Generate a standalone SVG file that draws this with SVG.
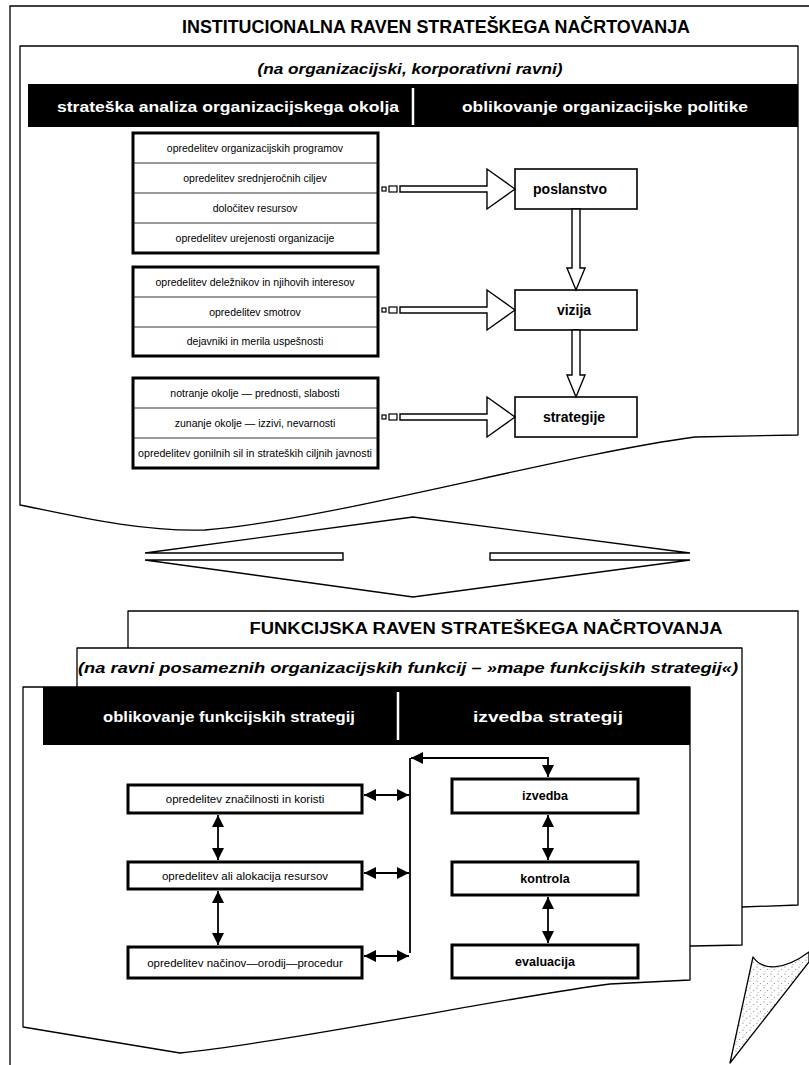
<svg xmlns="http://www.w3.org/2000/svg" width="809" height="1065" viewBox="0 0 809 1065">
<style>
.ln{fill:none;stroke:#000;stroke-width:1.3}
.pnl{fill:#fff;stroke:#000;stroke-width:1.3;stroke-linejoin:round}
.bar{fill:#000}
.dv{stroke:#fff;stroke-width:2.5}
.bx{fill:#fff;stroke:#000;stroke-width:3}
.row{stroke:#000;stroke-width:0.8}
.nb{fill:#fff;stroke:#000;stroke-width:1.6}
.blk{fill:#fff;stroke:#000;stroke-width:1.4}
.sq{fill:#fff;stroke:#000;stroke-width:1.2}
.t{font-family:"Liberation Sans",Arial,sans-serif;fill:#000;text-anchor:middle;dominant-baseline:central}
.h{font-weight:bold}
.w{fill:#fff}
.i{font-style:italic}
.s{font-size:10.5px}
.f{font-size:11.5px}
.con{fill:none;stroke:#000;stroke-width:1.8}
</style>
<defs>
<marker id="ah" viewBox="0 0 10 10" refX="10" refY="5" markerWidth="13" markerHeight="12" markerUnits="userSpaceOnUse" orient="auto-start-reverse">
<path d="M0,0 L10,5 L0,10 Z" fill="#000"/>
</marker>
<pattern id="stip" width="7" height="7" patternUnits="userSpaceOnUse">
<rect width="7" height="7" fill="#fff"/>
<circle cx="1" cy="1" r="0.6" fill="#666"/>
<circle cx="4.5" cy="3.5" r="0.6" fill="#888"/>
<circle cx="2" cy="5.5" r="0.5" fill="#999"/>
</pattern>
</defs>

<g id="frame">
<path class="ln" d="M10,1065 V6 H809"/>
<text class="t h" x="436" y="27" font-size="17.5" textLength="508" lengthAdjust="spacingAndGlyphs">INSTITUCIONALNA RAVEN STRATEŠKEGA NAČRTOVANJA</text>
</g>

<g id="institutional-panel">
<path class="pnl" d="M20,46 H798 V435 L695,437 C560,455 330,520 205,530 C140,532 70,515 20,505 Z"/>
<text class="t h i" x="410" y="68" font-size="15" textLength="305" lengthAdjust="spacingAndGlyphs">(na organizacijski, korporativni ravni)</text>
<rect class="bar" x="28" y="84" width="770" height="43"/>
<line class="dv" x1="413" y1="88" x2="413" y2="125"/>
<text class="t h w" x="228" y="106" font-size="15" textLength="342" lengthAdjust="spacingAndGlyphs">strateška analiza organizacijskega okolja</text>
<text class="t h w" x="605" y="106" font-size="15" textLength="286" lengthAdjust="spacingAndGlyphs">oblikovanje organizacijske politike</text>
</g>

<g id="group1">
<rect class="bx" x="133" y="133" width="245" height="120"/>
<line class="row" x1="133" y1="163" x2="378" y2="163"/>
<line class="row" x1="133" y1="193" x2="378" y2="193"/>
<line class="row" x1="133" y1="223" x2="378" y2="223"/>
<text class="t s" x="255" y="148">opredelitev organizacijskih programov</text>
<text class="t s" x="255" y="178">opredelitev srednjeročnih ciljev</text>
<text class="t s" x="255" y="208">določitev resursov</text>
<text class="t s" x="255" y="238">opredelitev urejenosti organizacije</text>
</g>

<g id="group2">
<rect class="bx" x="133" y="267" width="245" height="89"/>
<line class="row" x1="133" y1="297" x2="378" y2="297"/>
<line class="row" x1="133" y1="327" x2="378" y2="327"/>
<text class="t s" x="255" y="282">opredelitev deležnikov in njihovih interesov</text>
<text class="t s" x="255" y="312">opredelitev smotrov</text>
<text class="t s" x="255" y="341">dejavniki in merila uspešnosti</text>
</g>

<g id="group3">
<rect class="bx" x="133" y="378" width="245" height="90"/>
<line class="row" x1="133" y1="408" x2="378" y2="408"/>
<line class="row" x1="133" y1="438" x2="378" y2="438"/>
<text class="t s" x="255" y="393">notranje okolje — prednosti, slabosti</text>
<text class="t s" x="255" y="423">zunanje okolje — izzivi, nevarnosti</text>
<text class="t s" x="255" y="453" textLength="234" lengthAdjust="spacingAndGlyphs">opredelitev gonilnih sil in strateških ciljnih javnosti</text>
</g>

<g id="poslanstvo">
<rect class="nb" x="515" y="169" width="122" height="40"/>
<text class="t h" x="570" y="189" font-size="14">poslanstvo</text>
</g>
<g id="vizija">
<rect class="nb" x="515" y="290" width="122" height="40"/>
<text class="t h" x="574" y="310" font-size="14">vizija</text>
</g>
<g id="strategije">
<rect class="nb" x="515" y="397" width="122" height="40"/>
<text class="t h" x="574" y="417" font-size="14">strategije</text>
</g>

<g id="connectors-top">
<rect class="sq" x="382" y="187" width="4" height="4"/>
<rect class="sq" x="389" y="186" width="8" height="6"/>
<polygon class="blk" points="400,186 487,186 487,169 515,189 487,209 487,192 400,192"/>
<rect class="sq" x="382" y="308" width="4" height="4"/>
<rect class="sq" x="389" y="307" width="8" height="6"/>
<polygon class="blk" points="400,307 487,307 487,290 515,310 487,330 487,313 400,313"/>
<rect class="sq" x="382" y="415" width="4" height="4"/>
<rect class="sq" x="389" y="414" width="8" height="6"/>
<polygon class="blk" points="400,414 487,414 487,397 515,417 487,437 487,420 400,420"/>
<polygon class="blk" points="572,209 580,209 580,268 585,268 576,290 567,268 572,268"/>
<polygon class="blk" points="572,330 580,330 580,375 585,375 576,397 567,375 572,375"/>
</g>

<g id="double-arrow">
<path class="blk" d="M145,553 L413,517 L690,553 L490,553 L490,560 L690,560 L413,597 L145,560 L343,560 L343,553 Z"/>
</g>

<g id="functional-layer1">
<path class="pnl" d="M128,910 V611 H798 V905 L742,907 L128,910 Z"/>
<text class="t h" x="486" y="628" font-size="16" textLength="473" lengthAdjust="spacingAndGlyphs">FUNKCIJSKA RAVEN STRATEŠKEGA NAČRTOVANJA</text>
</g>
<g id="functional-layer2">
<path class="pnl" d="M77,946 V648 H742 V945 L692,946 Z"/>
<text class="t h i" x="408" y="667" font-size="15" textLength="660" lengthAdjust="spacingAndGlyphs">(na ravni posameznih organizacijskih funkcij – »mape funkcijskih strategij«)</text>
</g>
<g id="functional-layer3">
<path class="pnl" d="M23,687 H690 V980 L610,984 C520,995 300,1040 180,1053 L23,1027 Z"/>
<rect class="bar" x="43" y="687" width="647" height="58"/>
<line class="dv" x1="398" y1="692" x2="398" y2="740"/>
<text class="t h w" x="229" y="716" font-size="15" textLength="252" lengthAdjust="spacingAndGlyphs">oblikovanje funkcijskih strategij</text>
<text class="t h w" x="548" y="716" font-size="15" textLength="150" lengthAdjust="spacingAndGlyphs">izvedba strategij</text>
</g>

<g id="znacilnosti">
<rect class="bx" x="128" y="785" width="234" height="28"/>
<text class="t f" x="245" y="799">opredelitev značilnosti in koristi</text>
</g>
<g id="alokacija">
<rect class="bx" x="128" y="862" width="234" height="27"/>
<text class="t f" x="245" y="875.5">opredelitev ali alokacija resursov</text>
</g>
<g id="nacini">
<rect class="bx" x="128" y="947" width="234" height="31"/>
<text class="t f" x="245" y="962.5">opredelitev načinov—orodij—procedur</text>
</g>
<g id="izvedba">
<rect class="bx" x="452" y="779" width="186" height="34"/>
<text class="t h" x="545" y="796" font-size="12.5">izvedba</text>
</g>
<g id="kontrola">
<rect class="bx" x="452" y="862" width="186" height="33"/>
<text class="t h" x="545" y="878.5" font-size="12.5">kontrola</text>
</g>
<g id="evaluacija">
<rect class="bx" x="452" y="945" width="186" height="33"/>
<text class="t h" x="545" y="961.5" font-size="12.5">evaluacija</text>
</g>

<g id="connectors-bottom">
<line class="con" x1="410" y1="758" x2="410" y2="953"/>
<path class="con" d="M411,758 H548 V777" marker-start="url(#ah)" marker-end="url(#ah)"/>
<line class="con" x1="364" y1="795" x2="409" y2="795" marker-start="url(#ah)" marker-end="url(#ah)"/>
<line class="con" x1="364" y1="873" x2="409" y2="873" marker-start="url(#ah)" marker-end="url(#ah)"/>
<line class="con" x1="364" y1="956" x2="409" y2="956" marker-start="url(#ah)" marker-end="url(#ah)"/>
<line class="con" x1="218" y1="815" x2="218" y2="860" marker-start="url(#ah)" marker-end="url(#ah)"/>
<line class="con" x1="218" y1="891" x2="218" y2="945" marker-start="url(#ah)" marker-end="url(#ah)"/>
<line class="con" x1="548" y1="815" x2="548" y2="860" marker-start="url(#ah)" marker-end="url(#ah)"/>
<line class="con" x1="548" y1="897" x2="548" y2="943" marker-start="url(#ah)" marker-end="url(#ah)"/>
</g>

<g id="page-curl">
<path d="M753,957 C762,970 782,972 809,952 L809,962 L730,1063 Z" fill="url(#stip)" stroke="#000" stroke-width="1.3" stroke-linejoin="round"/>
</g>
</svg>
